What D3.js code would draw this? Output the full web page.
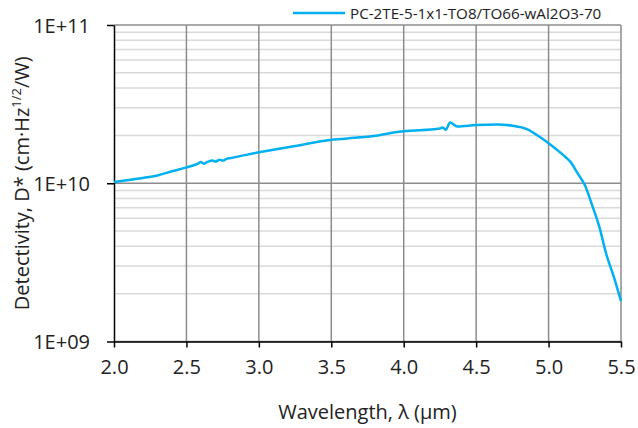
<!DOCTYPE html>
<html><head><meta charset="utf-8">
<script src="https://cdn.jsdelivr.net/npm/d3@7"></script>
<style>body{margin:0;background:#fff;} text{font-family:"Open Sans",sans-serif;fill:#222;}</style>
</head><body><svg id="c" width="638" height="428"></svg>
<script>
const seriesName = "PC-2TE-5-1x1-TO8/TO66-wAl2O3-70";
const wavelength = [2.00,2.10,2.20,2.30,2.40,2.50,2.58,2.60,2.62,2.65,2.68,2.70,2.73,2.75,2.78,2.80,3.00,3.15,3.22,3.50,3.70,3.84,3.91,4.00,4.25,4.27,4.29,4.32,4.37,4.50,4.65,4.75,4.85,4.95,5.00,5.10,5.15,5.20,5.23,5.25,5.30,5.35,5.40,5.45,5.50];
const detectivity = [1.02e10,1.05e10,1.08e10,1.12e10,1.19e10,1.26e10,1.33e10,1.36e10,1.33e10,1.37e10,1.39e10,1.37e10,1.41e10,1.39e10,1.43e10,1.44e10,1.57e10,1.66e10,1.70e10,1.88e10,1.95e10,2.02e10,2.08e10,2.13e10,2.22e10,2.25e10,2.18e10,2.42e10,2.28e10,2.33e10,2.35e10,2.31e10,2.20e10,1.93e10,1.79e10,1.51e10,1.37e10,1.16e10,1.05e10,9.75e9,7.3e9,5.32e9,3.52e9,2.57e9,1.8e9];
const xTicks = [2.0,2.5,3.0,3.5,4.0,4.5,5.0,5.5];
const yTicks = [1e9,1e10,1e11];
const yTickLabels = ["1E+09","1E+10","1E+11"];

const svg = d3.select("#c");
const m = {l:114, t:25, r:17, b:86.5};
const W = 638 - m.l - m.r, H = 428 - m.t - m.b;
const x = d3.scaleLinear().domain([2.0,5.5]).range([m.l, m.l+W]);
const y = d3.scaleLog().domain([1e9,1e11]).range([m.t+H, m.t]);

// minor gridlines
const minors = [];
for (const d of [1e9,1e10]) for (let k=2;k<=9;k++) minors.push(d*k);
svg.append("g").selectAll("line").data(minors).join("line")
  .attr("x1", m.l).attr("x2", m.l+W).attr("y1", d=>y(d)).attr("y2", d=>y(d))
  .attr("stroke", "#d9d9d9").attr("stroke-width", 1.5);
// major gridlines
svg.append("g").selectAll("line").data(yTicks).join("line")
  .attr("x1", m.l).attr("x2", m.l+W).attr("y1", d=>y(d)).attr("y2", d=>y(d))
  .attr("stroke", "#8c8c8c").attr("stroke-width", 1.5);
svg.append("g").selectAll("line").data(xTicks.slice(1)).join("line")
  .attr("x1", d=>x(d)).attr("x2", d=>x(d)).attr("y1", m.t).attr("y2", m.t+H)
  .attr("stroke", "#8c8c8c").attr("stroke-width", 1.5);

// axes
const xAxis = svg.append("g").attr("transform", `translate(0,${m.t+H})`)
  .call(d3.axisBottom(x).tickValues(xTicks).tickFormat(d3.format(".1f")).tickSize(6).tickSizeOuter(0));
const yAxis = svg.append("g").attr("transform", `translate(${m.l},0)`)
  .call(d3.axisLeft(y).tickValues(yTicks).tickFormat((d,i)=>yTickLabels[i]).tickSize(7).tickSizeOuter(0));
[xAxis, yAxis].forEach(a => {
  a.selectAll("path,line").attr("stroke", "#000").attr("stroke-width", 1.5);
  a.selectAll("text").style("font-family", '"Open Sans",sans-serif').style("font-size", "20px").attr("fill", "#222");
});
xAxis.selectAll("text").attr("dy", "0").attr("y", 32);
yAxis.selectAll("text").attr("x", -24).attr("dy", "0.36em");

// line
const line = d3.line().x((d,i)=>x(wavelength[i])).y(d=>y(d)).curve(d3.curveMonotoneX);
svg.append("path").datum(detectivity).attr("d", line)
  .attr("fill", "none").attr("stroke", "#00b0f0").attr("stroke-width", 2.5).attr("stroke-linejoin", "round");

// axis titles
svg.append("text").attr("x", m.l + W/2).attr("y", 419).attr("text-anchor", "middle")
  .style("font-size", "20px").text("Wavelength, λ (µm)");
const yt = svg.append("text").attr("transform", `translate(29,${m.t+H/2}) rotate(-90)`).attr("text-anchor", "middle")
  .style("font-size", "20px");
yt.append("tspan").text("Detectivity, D* (cm·Hz");
yt.append("tspan").attr("dy", "-8").style("font-size", "13px").text("1/2");
yt.append("tspan").attr("dy", "8").text("/W)");

// legend
svg.append("line").attr("x1", 293).attr("x2", 345).attr("y1", 13).attr("y2", 13)
  .attr("stroke", "#00b0f0").attr("stroke-width", 2.5);
svg.append("text").attr("x", 350).attr("y", 18.5).style("font-size", "15.2px").text(seriesName);
</script></body></html>
